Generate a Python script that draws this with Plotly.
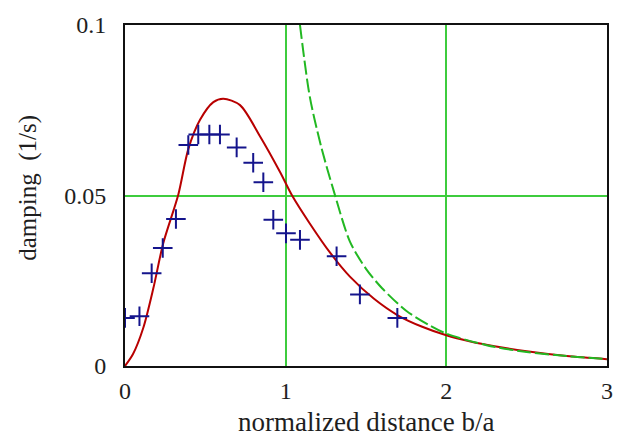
import plotly.graph_objects as go

# Measured damping (blue crosses)
meas_x = [0.00, 0.09, 0.166, 0.235, 0.317, 0.394, 0.456, 0.525, 0.591,
          0.695, 0.798, 0.861, 0.923, 1.002, 1.089, 1.317, 1.462, 1.695]
meas_y = [0.0141, 0.0146, 0.0272, 0.0346, 0.0431, 0.0648, 0.0679, 0.0679, 0.0679,
          0.0641, 0.0596, 0.0539, 0.0429, 0.0389, 0.0370, 0.0322, 0.0210, 0.0141]

# Full model (red solid curve)
model_x = [0.0, 0.05, 0.114, 0.176, 0.238, 0.332, 0.394, 0.467, 0.55, 0.612,
           0.716, 0.84, 0.965, 1.04, 1.15, 1.28, 1.40, 1.55, 1.70, 1.85,
           2.0, 2.15, 2.3, 2.5, 2.75, 3.0]
model_y = [0.0, 0.0035, 0.0112, 0.0227, 0.036, 0.0503, 0.0636, 0.0722, 0.0774, 0.0784,
           0.0765, 0.0674, 0.0569, 0.0500, 0.0418, 0.0330, 0.0262, 0.0197, 0.0148, 0.0115,
           0.0090, 0.0072, 0.0058, 0.0043, 0.0029, 0.0020]

# Far-field approximation (green dashed curve)
far_x = [1.089, 1.15, 1.22, 1.30, 1.40, 1.50, 1.60, 1.75, 1.90, 2.0,
         2.25, 2.5, 2.75, 3.0]
far_y = [0.100, 0.079, 0.0645, 0.0512, 0.0365, 0.0285, 0.0228, 0.0162, 0.0118, 0.0095,
         0.0061, 0.0041, 0.0029, 0.0020]

x_ticks = [0, 1, 2, 3]
y_ticks = [0, 0.05, 0.1]
y_tick_text = ["0", "0.05", "0.1"]

FONT = "Liberation Serif, Times New Roman, serif"
GRID = "#3dcc3d"
INK = "#1e1e1e"

fig = go.Figure()
fig.add_trace(go.Scatter(x=model_x, y=model_y, mode="lines",
                         line=dict(color="#b80000", width=2, shape="spline", smoothing=0.8),
                         showlegend=False))
fig.add_trace(go.Scatter(x=far_x, y=far_y, mode="lines",
                         line=dict(color="#22b822", width=2, dash="14px,4px",
                                   shape="spline", smoothing=0.8),
                         showlegend=False))
fig.add_trace(go.Scatter(x=meas_x, y=meas_y, mode="markers",
                         marker=dict(symbol="cross-thin", size=14,
                                     line=dict(color="#14148c", width=2)),
                         showlegend=False))

fig.update_layout(
    width=628, height=442,
    margin=dict(l=125, r=21, t=16, b=76),
    paper_bgcolor="white", plot_bgcolor="white",
    font=dict(family=FONT, size=24, color=INK),
    xaxis=dict(range=[0, 3], tickvals=x_ticks, ticks="", showgrid=True,
               gridcolor=GRID, gridwidth=2, zeroline=False,
               showline=True, linecolor="#111", linewidth=2, mirror=True,
               ticklabelstandoff=2),
    yaxis=dict(range=[0, 0.1], tickvals=y_ticks, ticktext=y_tick_text, ticks="",
               showgrid=True, gridcolor=GRID, gridwidth=2, zeroline=False,
               showline=True, linecolor="#111", linewidth=2, mirror=True,
               ticklabelstandoff=12),
    annotations=[
        dict(text="normalized distance b/a", xref="paper", yref="paper",
             x=0.5, y=-0.165, xanchor="center", yanchor="middle",
             showarrow=False, font=dict(family=FONT, size=27, color=INK)),
        dict(text="damping\u00a0 (1/s)", xref="paper", yref="paper",
             x=-0.201, y=0.523, xanchor="center", yanchor="middle", textangle=-90,
             showarrow=False, font=dict(family=FONT, size=25, color=INK)),
    ],
)

fig.write_html("out.html")
